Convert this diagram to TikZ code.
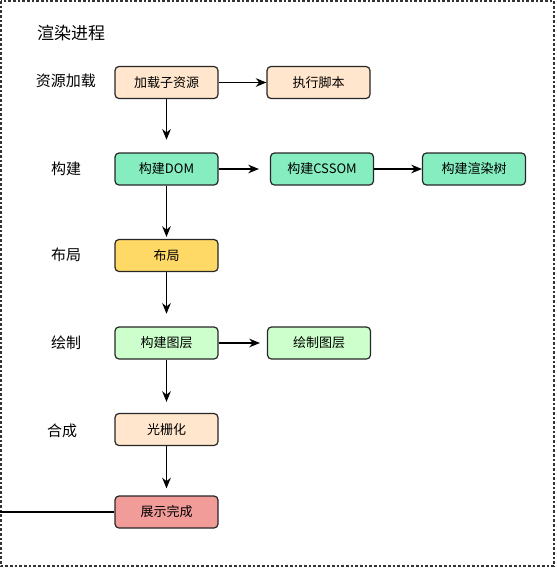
\documentclass[tikz,border=0pt]{standalone}
\usepackage{fontspec}
\setmainfont{Noto Sans CJK SC}
\usetikzlibrary{arrows.meta}
\definecolor{peach}{HTML}{FFE6CC}
\definecolor{mint}{HTML}{86EDC1}
\definecolor{gold}{HTML}{FFD966}
\definecolor{pale}{HTML}{CCFFCC}
\definecolor{rose}{HTML}{F19C99}

\begin{document}
\begin{tikzpicture}[x=.75pt,y=-.75pt,>={Stealth[length=8pt,width=6.5pt]},line width=.9pt,
  font=\fontsize{9.75}{12}\selectfont,
  stage/.style={draw=black!85,rounded corners=3pt,minimum width=77.25pt,minimum height=24pt,inner sep=0pt},
  lbl/.style={font=\fontsize{11.25}{13}\selectfont}]
  \useasboundingbox (0,0) rectangle (557,568);
  \draw[dash pattern=on 2pt off 1.5pt,line width=.9pt,black!80] (1,1) rectangle (554,566);
  \node[font=\fontsize{12.75}{15}\selectfont] (title) at (71,33) {渲染进程};
  % row labels
  \node[lbl] (rload) at (66,81) {资源加载};
  \node[lbl] (rbuild) at (66,169) {构建};
  \node[lbl] (rlayout) at (66,255) {布局};
  \node[lbl] (rpaint) at (66,343) {绘制};
  \node[lbl] (rcomp) at (62,431) {合成};
  % stages
  \node[stage,fill=peach] (load) at (166.5,82.5) {加载子资源};
  \node[stage,fill=peach] (script) at (318.5,82.5) {执行脚本};
  \node[stage,fill=mint] (dom) at (166.5,169) {构建DOM};
  \node[stage,fill=mint] (cssom) at (322,169) {构建CSSOM};
  \node[stage,fill=mint] (rtree) at (474,169) {构建渲染树};
  \node[stage,fill=gold] (layout) at (166.5,255.5) {布局};
  \node[stage,fill=pale] (layer) at (166.5,343) {构建图层};
  \node[stage,fill=pale] (draw) at (319,343) {绘制图层};
  \node[stage,fill=peach] (raster) at (166.5,429.5) {光栅化};
  \node[stage,fill=rose] (done) at (166.5,512) {展示完成};
  \coordinate (edge) at (0,512);
  % connectors
  \draw[->] (load)--(script);
  \draw[->,shorten >=9.5pt] (load)--(dom);
  \draw[->,shorten >=8.25pt] (dom)--(cssom);
  \draw[->] (cssom)--(rtree);
  \draw[->,shorten >=1.5pt] (dom)--(layout);
  \draw[->,shorten >=9.5pt] (layout)--(layer);
  \draw[->,shorten >=5.25pt] (layer)--(draw);
  \draw[->,shorten >=8.25pt] (layer)--(raster);
  \draw[->,shorten >=5.25pt] (raster)--(done);
  \draw (edge)--(done);
\end{tikzpicture}
\end{document}
